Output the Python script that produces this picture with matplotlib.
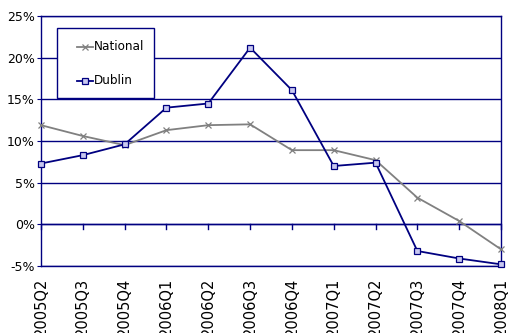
import matplotlib
matplotlib.use("Agg")
import matplotlib.pyplot as plt
from matplotlib.lines import Line2D
from matplotlib.patches import Rectangle
from matplotlib.ticker import FuncFormatter, MultipleLocator

quarters = ["2005Q2", "2005Q3", "2005Q4", "2006Q1", "2006Q2", "2006Q3",
            "2006Q4", "2007Q1", "2007Q2", "2007Q3", "2007Q4", "2008Q1"]
national = [11.9, 10.6, 9.5, 11.3, 11.9, 12.0, 8.9, 8.9, 7.7, 3.2, 0.4, -3.0]
dublin = [7.3, 8.3, 9.6, 14.0, 14.5, 21.2, 16.1, 7.0, 7.4, -3.2, -4.1, -4.8]

navy = "#000080"
grey = "#808080"
W, H = 509, 333

plt.rcParams["font.family"] = ["DejaVu Sans"]

fig = plt.figure(figsize=(W / 100, H / 100), dpi=100)
ax = fig.add_axes([41 / W, (H - 266) / H, 460 / W, 250 / H])

national_style = dict(color=grey, lw=1.3, marker="x", ms=4, mew=0.9)
dublin_style = dict(color=navy, lw=1.3, marker="s", ms=4, mew=0.9,
                    mfc="#c8c8f0", mec=navy)

x = list(range(len(quarters)))
ax.plot(x, national, label="National", clip_on=False, zorder=3, **national_style)
ax.plot(x, dublin, label="Dublin", clip_on=False, zorder=4, **dublin_style)

ax.set_xlim(0, len(quarters) - 1)
ax.set_ylim(-5, 25)
ax.yaxis.set_major_locator(MultipleLocator(5))
ax.yaxis.set_major_formatter(FuncFormatter(lambda v, p: f"{v:.0f}%"))
ax.grid(axis="y", color=navy, lw=1.0)
ax.set_axisbelow(True)

for s in ax.spines.values():
    s.set_color(navy)
    s.set_linewidth(1.0)

# category axis crosses at zero with ticks hanging below it
ax.axhline(0, color=navy, lw=1.0, zorder=1)
for xi in x:
    ax.plot([xi, xi], [0, -0.55], color=navy, lw=1.0, zorder=1, clip_on=False)

ax.set_xticks(x)
ax.set_xticklabels(quarters, rotation=90, fontsize=10.5, color="black",
                   va="top")
ax.tick_params(axis="x", length=0, pad=8.5)
ax.tick_params(axis="y", length=3, color=navy, labelsize=9, pad=1.5)


def fx(px):
    return px / W


def fy(py):
    return 1 - py / H


# legend box drawn in figure pixel positions
fig.patches.append(Rectangle((fx(57), fy(98)), fx(154) - fx(57), fy(28) - fy(98),
                             transform=fig.transFigure, facecolor="white",
                             edgecolor=navy, lw=1.0, zorder=5))
for label, style, cy in (("National", national_style, 47),
                         ("Dublin", dublin_style, 81)):
    ln = Line2D([fx(77), fx(85), fx(93)], [fy(cy)] * 3,
                transform=fig.transFigure, markevery=[1], **style)
    ln.set_zorder(6)
    fig.lines.append(ln)
    fig.text(fx(94), fy(cy), label, fontsize=9.6, fontstretch="condensed",
             va="center", ha="left", color="black", zorder=6)

fig.savefig("out.png", dpi=100)
